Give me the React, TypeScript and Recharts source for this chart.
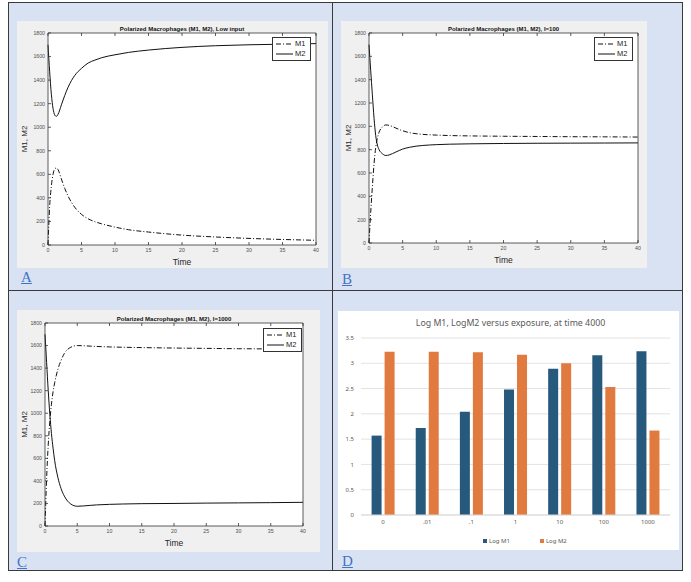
import React from "react";
import {
  Bar,
  BarChart,
  CartesianGrid,
  Legend,
  Line,
  LineChart,
  XAxis,
  YAxis,
} from "recharts";

// time points
const TIME = [0, 0.25, 0.5, 0.75, 1, 1.25, 1.5, 2, 2.5, 3, 4, 5, 6, 7, 8, 10, 12, 15, 20, 25, 30, 35, 40];

// A: low input
const LOW_M1 = [0, 330, 500, 600, 645, 655, 640, 560, 480, 415, 320, 260, 222, 198, 180, 152, 130, 110, 84, 68, 56, 47, 40];
const LOW_M2 = [1700, 1470, 1280, 1160, 1105, 1092, 1110, 1190, 1270, 1340, 1440, 1500, 1545, 1570, 1590, 1615, 1635, 1655, 1678, 1692, 1700, 1705, 1710];

// B: I=100
const I100_M1 = [0, 260, 480, 680, 820, 900, 950, 995, 1012, 1008, 985, 962, 946, 937, 931, 925, 921, 918, 915, 913, 911, 910, 908];
const I100_M2 = [1700, 1480, 1270, 1070, 920, 840, 800, 765, 750, 755, 780, 805, 820, 830, 836, 843, 847, 850, 853, 855, 856, 857, 858];

// C: I=1000
const I1000_M1 = [0, 420, 720, 930, 1080, 1190, 1270, 1390, 1470, 1530, 1585, 1600, 1598, 1595, 1592, 1588, 1585, 1582, 1578, 1575, 1572, 1570, 1568];
const I1000_M2 = [1700, 1450, 1200, 990, 820, 690, 580, 430, 330, 265, 195, 175, 178, 183, 187, 192, 195, 198, 200, 203, 205, 207, 210];

const TIME_TICKS = [0, 5, 10, 15, 20, 25, 30, 35, 40];
const M_TICKS = [0, 200, 400, 600, 800, 1000, 1200, 1400, 1600, 1800];

// D: log values at time 4000
const EXPOSURES = ["0", ".01", ".1", "1", "10", "100", "1000"];
const LOG_M1 = [1.57, 1.72, 2.04, 2.48, 2.89, 3.16, 3.24];
const LOG_M2 = [3.23, 3.23, 3.22, 3.17, 3.0, 2.53, 1.67];
const LOG_TICKS = [0, 0.5, 1, 1.5, 2, 2.5, 3, 3.5];

const M1_DASH = "5 2 1 2";
const AXIS = "#333";
const SANS = "'Liberation Sans', Arial, sans-serif";

const MatlabLegend = () => (
  <div
    style={{
      background: "#fff",
      border: `0.8px solid ${AXIS}`,
      padding: "1px 2px",
      fontFamily: SANS,
      fontSize: 7.5,
      lineHeight: "10px",
      color: "#222",
    }}
  >
    {[
      { name: "M1", dash: M1_DASH },
      { name: "M2", dash: undefined },
    ].map((it) => (
      <div key={it.name} style={{ display: "flex", alignItems: "center", height: 10 }}>
        <svg width={19} height={10}>
          <line x1={1} x2={18} y1={5} y2={5} stroke="#111" strokeWidth={1} strokeDasharray={it.dash} />
        </svg>
        <span style={{ marginLeft: 1 }}>{it.name}</span>
      </div>
    ))}
  </div>
);

type MatlabProps = {
  x: number;
  y: number;
  w: number;
  h: number;
  plotLeft: number;
  plotRight: number;
  plotTop: number;
  plotBottom: number;
  title: string;
  m1: number[];
  m2: number[];
  legendX: number;
  legendY: number;
};

const MatlabPanel: React.FC<MatlabProps> = ({
  x, y, w, h, plotLeft, plotRight, plotTop, plotBottom, title, m1, m2, legendX, legendY,
}) => {
  const data = TIME.map((t, i) => ({ t, m1: m1[i], m2: m2[i] }));
  const yAxisW = plotLeft - x;
  const xAxisH = y + h - plotBottom;
  const tick = { fontSize: 5.2, fill: "#4d4d4d", fontFamily: SANS };
  return (
    <div style={{ position: "absolute", left: x, top: y, width: w, height: h, background: "#f0f0f0" }}>
      <LineChart
        width={w}
        height={h}
        data={data}
        margin={{ top: plotTop - y - 1, right: x + w - plotRight - 1, bottom: 0, left: 0 }}
      >
        <CartesianGrid fill="#fff" horizontal={false} vertical={false} />
        <XAxis
          dataKey="t"
          type="number"
          domain={[0, 40]}
          ticks={TIME_TICKS}
          height={xAxisH}
          stroke={AXIS}
          strokeWidth={0.8}
          tickSize={-3}
          tickMargin={6}
          tick={tick}
          label={{ value: "Time", position: "insideBottom", offset: xAxisH - 20, fontSize: 8.5, fill: "#262626", fontFamily: SANS }}
        />
        <XAxis
          xAxisId="top"
          orientation="top"
          dataKey="t"
          type="number"
          domain={[0, 40]}
          ticks={TIME_TICKS}
          height={1}
          stroke={AXIS}
          strokeWidth={0.8}
          tickSize={-3}
          tickFormatter={() => ""}
          label={{ value: title, position: "top", offset: 1, fontSize: 6, fontWeight: "bold", fill: "#111", stroke: "none", fontFamily: SANS }}
        />
        <YAxis
          type="number"
          domain={[0, 1800]}
          ticks={M_TICKS}
          width={yAxisW}
          stroke={AXIS}
          strokeWidth={0.8}
          tickSize={-3}
          tickMargin={6}
          tick={tick}
          label={{
            value: "M1, M2",
            angle: -90,
            position: "insideLeft",
            offset: 7,
            fontSize: 8,
            fill: "#262626",
            fontFamily: SANS,
            style: { textAnchor: "middle" },
          }}
        />
        <YAxis
          yAxisId="right"
          orientation="right"
          type="number"
          domain={[0, 1800]}
          ticks={M_TICKS}
          width={1}
          stroke={AXIS}
          strokeWidth={0.8}
          tickSize={-3}
          tickFormatter={() => ""}
        />
        <Line dataKey="m1" type="monotone" stroke="#111" strokeWidth={1} strokeDasharray={M1_DASH} dot={false} isAnimationActive={false} />
        <Line dataKey="m2" type="monotone" stroke="#111" strokeWidth={1} dot={false} isAnimationActive={false} />
        <Legend
          verticalAlign="middle"
          align="center"
          content={<MatlabLegend />}
          wrapperStyle={{ left: legendX - x, top: legendY - y, width: 39 }}
        />
      </LineChart>
    </div>
  );
};

const BarLegend = () => (
  <div style={{ display: "flex", gap: 30, fontFamily: "'Noto Sans', sans-serif", fontSize: 6, color: "#595959", lineHeight: "8px" }}>
    {[
      { name: "Log M1", color: "#27597d" },
      { name: "Log M2", color: "#e07a3f" },
    ].map((it) => (
      <div key={it.name} style={{ display: "flex", alignItems: "center" }}>
        <span style={{ display: "inline-block", width: 4, height: 4, background: it.color, marginRight: 2 }} />
        {it.name}
      </div>
    ))}
  </div>
);

const BarPanel = () => {
  const data = EXPOSURES.map((e, i) => ({ e, m1: LOG_M1[i], m2: LOG_M2[i] }));
  const tick = { fontSize: 6, fill: "#595959", fontFamily: "'Noto Sans', sans-serif" };
  return (
    <div style={{ position: "absolute", left: 338, top: 311, width: 341, height: 239, background: "#fff" }}>
      <div
        style={{
          position: "absolute",
          left: 0,
          top: 6,
          width: 345,
          textAlign: "center",
          fontFamily: "'Noto Sans', sans-serif",
          fontSize: 8.8,
          color: "#595959",
        }}
      >
        Log M1, LogM2 versus exposure, at time 4000
      </div>
      <BarChart
        width={341}
        height={239}
        data={data}
        margin={{ top: 27, right: 9, bottom: 5, left: 0 }}
        barCategoryGap="24%"
        barGap={3}
      >
        <CartesianGrid vertical={false} stroke="#e3e3e3" />
        <XAxis dataKey="e" height={30} axisLine={{ stroke: "#d9d9d9" }} tickLine={false} tickSize={0} tickMargin={5} tick={tick} />
        <YAxis
          domain={[0, 3.5]}
          ticks={LOG_TICKS}
          width={23}
          axisLine={false}
          tickLine={false}
          tickSize={0}
          tickMargin={7}
          tick={tick}
        />
        <Bar dataKey="m1" name="Log M1" fill="#27597d" isAnimationActive={false} />
        <Bar dataKey="m2" name="Log M2" fill="#e07a3f" isAnimationActive={false} />
        <Legend verticalAlign="middle" align="center" content={<BarLegend />} wrapperStyle={{ left: 145, top: 226, width: 120 }} />
      </BarChart>
    </div>
  );
};

const PanelLabel = ({ text, x, y }: { text: string; x: number; y: number }) => (
  <div
    style={{
      position: "absolute",
      left: x,
      top: y,
      fontFamily: "'Liberation Serif', serif",
      fontSize: 15,
      lineHeight: "15px",
      color: "#4472c4",
      textDecoration: "underline",
    }}
  >
    {text}
  </div>
);

export default function App() {
  return (
    <div style={{ position: "absolute", left: 0, top: 0, width: 691, height: 582, background: "#fff" }}>
      <div
        style={{
          position: "absolute",
          left: 8,
          top: 2,
          width: 675,
          height: 569,
          background: "#d9e2f3",
          border: "1.5px solid #3a3a3a",
          boxSizing: "border-box",
        }}
      />
      <div style={{ position: "absolute", left: 332, top: 2, width: 1, height: 569, background: "#3a3a3a" }} />
      <div style={{ position: "absolute", left: 8, top: 290, width: 675, height: 1, background: "#3a3a3a" }} />

      <MatlabPanel
        x={17} y={21} w={311} h={247}
        plotLeft={48} plotRight={316} plotTop={33} plotBottom={245}
        title="Polarized Macrophages (M1, M2), Low input"
        m1={LOW_M1} m2={LOW_M2}
        legendX={272} legendY={37}
      />
      <MatlabPanel
        x={341} y={21} w={306} h={247}
        plotLeft={369} plotRight={638} plotTop={33} plotBottom={243}
        title="Polarized Macrophages (M1, M2), I=100"
        m1={I100_M1} m2={I100_M2}
        legendX={594} legendY={37}
      />
      <MatlabPanel
        x={17} y={310} w={303} h={242}
        plotLeft={45} plotRight={303} plotTop={323} plotBottom={526}
        title="Polarized Macrophages (M1, M2), I=1000"
        m1={I1000_M1} m2={I1000_M2}
        legendX={263} legendY={328}
      />
      <BarPanel />

      <PanelLabel text="A" x={21} y={270} />
      <PanelLabel text="B" x={342} y={272} />
      <PanelLabel text="C" x={17} y={555} />
      <PanelLabel text="D" x={342} y={554} />
    </div>
  );
}
